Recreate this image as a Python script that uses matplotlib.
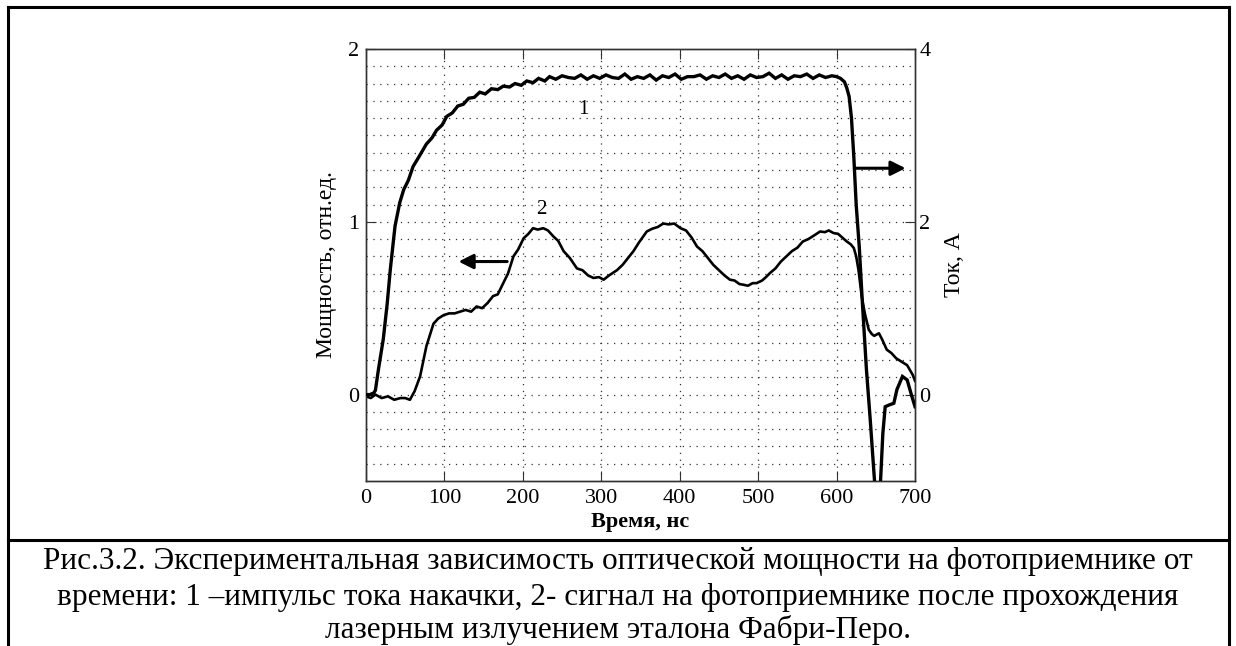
import matplotlib
matplotlib.use("Agg")
import matplotlib.pyplot as plt
from matplotlib.lines import Line2D

plt.rcParams['font.family'] = ['Liberation Serif', 'DejaVu Serif']

# Curve 1: pump current pulse, A (right axis)
t_current = [0, 5, 10, 12, 16, 22, 27, 31, 37, 43, 48, 54, 60, 68, 77, 84, 90, 97,
             103, 110, 117, 124, 131, 138, 145, 152, 160, 168, 175, 183, 190, 198,
             205, 213, 220, 228, 234, 242, 250, 258, 266, 274, 282, 290, 298, 306,
             314, 322, 330, 338, 346, 354, 362, 370, 378, 386, 394, 402, 410, 418,
             426, 434, 442, 450, 458, 466, 474, 482, 490, 498, 506, 514, 522, 530,
             538, 546, 554, 562, 570, 578, 586, 594, 600, 605, 610, 613, 616, 619,
             622, 625, 629, 633, 638, 643, 648, 651, 655, 659, 662, 667, 673, 677,
             684, 690, 696, 700]
current = [0.0, 0.0, 0.02, 0.05, 0.30, 0.64, 1.05, 1.45, 1.95, 2.22, 2.37, 2.48, 2.64,
           2.76, 2.90, 2.97, 3.06, 3.12, 3.22, 3.26, 3.34, 3.36, 3.43, 3.44, 3.50,
           3.48, 3.54, 3.53, 3.57, 3.56, 3.60, 3.58, 3.63, 3.61, 3.66, 3.63, 3.68,
           3.65, 3.69, 3.67, 3.66, 3.70, 3.65, 3.69, 3.66, 3.70, 3.67, 3.66, 3.71,
           3.65, 3.68, 3.66, 3.70, 3.64, 3.69, 3.67, 3.71, 3.65, 3.68, 3.68, 3.70,
           3.65, 3.69, 3.67, 3.71, 3.66, 3.69, 3.65, 3.70, 3.67, 3.68, 3.72, 3.66,
           3.70, 3.65, 3.69, 3.68, 3.71, 3.66, 3.70, 3.67, 3.69, 3.68, 3.66, 3.62,
           3.55, 3.45, 3.20, 2.75, 2.20, 1.70, 1.05, 0.30, -0.30, -0.95, -1.30,
           -1.20, -0.45, -0.14, -0.12, -0.10, 0.06, 0.21, 0.17, -0.02, -0.14]

# Curve 2: photodetector signal, rel. units (left axis)
t_signal = [0, 6, 12, 20, 28, 36, 44, 50, 56, 62, 69, 77, 86, 92, 99, 106, 113, 120,
            127, 134, 141, 148, 155, 162, 168, 175, 181, 188, 194, 201, 207, 213,
            219, 226, 232, 239, 245, 252, 260, 269, 276, 283, 290, 297, 303, 310,
            320, 327, 334, 341, 348, 358, 365, 372, 379, 386, 393, 401, 408, 415,
            422, 429, 436, 443, 450, 457, 464, 470, 476, 481, 487, 493, 498, 505,
            510, 515, 522, 529, 536, 543, 550, 557, 564, 571, 579, 585, 590, 596,
            602, 607, 613, 618, 622, 625, 628, 632, 636, 641, 645, 648, 654, 658,
            664, 670, 676, 683, 690, 697, 700]
signal = [-0.01, -0.02, 0.0, -0.02, -0.01, -0.03, -0.02, -0.02, -0.03, 0.02, 0.106,
          0.28, 0.41, 0.44, 0.46, 0.47, 0.47, 0.48, 0.49, 0.48, 0.51, 0.50, 0.53,
          0.57, 0.58, 0.645, 0.70, 0.80, 0.84, 0.905, 0.93, 0.963, 0.955, 0.963,
          0.95, 0.915, 0.89, 0.83, 0.79, 0.73, 0.72, 0.69, 0.675, 0.68, 0.665, 0.69,
          0.72, 0.75, 0.79, 0.83, 0.88, 0.944, 0.96, 0.97, 0.99, 0.985, 0.99, 0.963,
          0.95, 0.91, 0.857, 0.83, 0.79, 0.75, 0.72, 0.69, 0.665, 0.66, 0.64, 0.636,
          0.63, 0.645, 0.645, 0.66, 0.68, 0.703, 0.73, 0.77, 0.80, 0.83, 0.85, 0.886,
          0.90, 0.92, 0.944, 0.94, 0.95, 0.935, 0.93, 0.91, 0.886, 0.87, 0.848,
          0.80, 0.72, 0.57, 0.47, 0.376, 0.35, 0.34, 0.355, 0.32, 0.26, 0.24, 0.21,
          0.19, 0.17, 0.115, 0.08]

x_ticks = [0, 100, 200, 300, 400, 500, 600, 700]
power_ticks = [0, 1, 2]
current_ticks = [0, 2, 4]

W, H = 1236, 646
fig = plt.figure(figsize=(W / 100, H / 100), dpi=100)

ax = fig.add_axes([366 / W, 1 - 481 / H, (915 - 366) / W, (481 - 49) / H])
ax2 = ax.twinx()

ax.set_xlim(0, 700)
ax.set_ylim(-0.5, 2)
ax2.set_ylim(-1, 4)

grid_kw = dict(color='#333333', linewidth=0.9, linestyle=(0, (1, 4.5)))
for gx in x_ticks[1:-1]:
    ax.axvline(gx, **grid_kw, zorder=1)
for k in range(-4, 20):
    ax.axhline(k * 0.1, **grid_kw, zorder=1)

ax.plot(t_signal, signal, color='black', linewidth=1.9, zorder=3)
ax2.plot(t_current, current, color='black', linewidth=2.4, zorder=3,
         solid_joinstyle='miter')

for a in (ax, ax2):
    for s in a.spines.values():
        s.set_color('#333333')
        s.set_linewidth(1.0)

ax.set_xticks(x_ticks)
ax.set_yticks(power_ticks)
ax2.set_yticks(current_ticks)
ax.tick_params(axis='x', direction='in', length=7, top=True, pad=6,
               labelsize=16, color='#333333')
ax.tick_params(axis='y', direction='in', length=7, pad=5, labelsize=16,
               color='#333333')
ax2.tick_params(axis='y', direction='in', length=7, pad=3, labelsize=16,
                color='#333333')

ax.set_xlabel('Время, нс', fontsize=16, fontweight='bold', labelpad=3)
ax.set_ylabel('Мощность, отн.ед.', fontsize=17, labelpad=8)
ax2.set_ylabel('Ток, А', fontsize=17, labelpad=10)

ax.text(277, 1.65, '1', fontsize=15, ha='center', va='center', zorder=4)
ax.text(224, 1.07, '2', fontsize=15, ha='center', va='center', zorder=4)

arrow_kw = dict(arrowstyle='-|>', color='black', lw=2.2, mutation_scale=22,
                shrinkA=0, shrinkB=0)
ax.annotate('', xy=(118, 0.77), xytext=(180, 0.77), arrowprops=arrow_kw, zorder=4)
ax.annotate('', xy=(688, 1.31), xytext=(624, 1.31), arrowprops=arrow_kw, zorder=4)

# table frame around the figure and its caption
frame_kw = dict(color='black', linewidth=2.2, transform=fig.transFigure)
fig.add_artist(Line2D([7.5 / W, 1229 / W], [1 - 7 / H, 1 - 7 / H], **frame_kw))
fig.add_artist(Line2D([7.5 / W, 7.5 / W], [0, 1 - 7 / H], **frame_kw))
fig.add_artist(Line2D([1229 / W, 1229 / W], [0, 1 - 7 / H], **frame_kw))
fig.add_artist(Line2D([7.5 / W, 1229 / W], [1 - 540 / H, 1 - 540 / H], **frame_kw))

caption = [
    'Рис.3.2. Экспериментальная зависимость оптической мощности на фотоприемнике от',
    'времени: 1 –импульс тока накачки, 2- сигнал на фотоприемнике после прохождения',
    'лазерным излучением эталона Фабри-Перо.',
]
for line, yc in zip(caption, [561, 597, 630]):
    fig.text(0.5, 1 - yc / H, line, fontsize=22.5, ha='center', va='center')

fig.savefig('out.png', dpi=100)
